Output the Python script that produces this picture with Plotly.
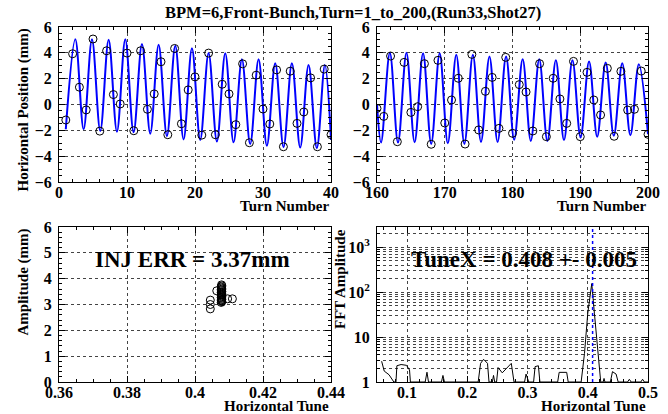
import plotly.graph_objects as go

# ---------------- data ----------------
turns_a = list(range(1, 41))
pos_a = [-1.2, 3.93, 1.34, -0.42, 5.07, -2.06, 4.16, 0.77, 0.04, 3.98,
         -2.03, 4.16, -0.37, 0.82, 3.31, -2.34, 4.34, -1.49, 1.13, 2.14,
         -2.37, 3.98, -2.34, 1.57, 0.82, -1.56, 3.15, -2.96, 2.27, -0.35,
         -1.51, 2.68, -3.27, 2.58, -1.46, -0.58, 2.06, -3.27, 2.74, -2.34]

turns_b = list(range(160, 201))
pos_b = [-0.30, -0.92, 3.75, -2.88, 3.26, -0.61, -0.17, 3.16, -3.08, 3.42,
         -1.43, 0.35, 2.03, -3.06, 3.88, -1.97, 1.02, 2.10, -1.85, 3.65,
         -2.23, 1.54, 0.97, -2.05, 3.16, -2.49, 2.03, 0.43, -1.46, 3.34,
         -2.49, 2.49, 0.35, -0.81, 2.80, -2.46, 2.57, -0.43, -0.37, 2.59,
         -2.31]

# fitted curve, read at its extrema
fit_a_turn = [1.0, 2.4, 3.62, 4.85, 6.07, 7.3, 8.52, 9.75, 10.97, 12.2, 13.42,
              14.65, 15.87, 17.1, 18.32, 19.55, 20.77, 22.0, 23.22, 24.45,
              25.67, 26.9, 28.12, 29.35, 30.57, 31.8, 33.02, 34.25, 35.47,
              36.7, 37.92, 39.1, 40.0]
fit_a_pos = [-1.92, 5.05, -1.92, 5.05, -2.05, 5.02, -2.1, 5.05, -2.15, 4.68,
             -2.26, 4.62, -2.45, 4.55, -2.7, 4.35, -2.75, 3.98, -2.87, 3.96,
             -2.93, 3.5, -3.06, 3.5, -3.19, 3.2, -3.3, 3.19, -3.33, 3.06,
             -3.38, 3.05, -2.75]

fit_b_turn = [160.0, 160.6, 161.9, 163.1, 164.35, 165.55, 166.8, 168.0, 169.25,
              170.45, 171.7, 172.9, 174.15, 175.35, 176.6, 177.8, 179.05,
              180.25, 181.5, 182.7, 183.95, 185.15, 186.4, 187.6, 188.85,
              190.05, 191.3, 192.5, 193.75, 194.95, 196.2, 197.4, 198.65, 200.0]
fit_b_pos = [0.0, -2.95, 4.0, -2.95, 4.0, -2.92, 3.97, -3.05, 3.97, -3.0,
             3.85, -3.05, 3.85, -2.9, 3.72, -2.9, 3.72, -2.72, 3.5, -2.82,
             3.5, -2.82, 3.42, -2.75, 3.42, -2.55, 3.32, -2.5, 3.26, -2.42,
             3.2, -2.38, 3.12, -2.3]

# amplitude vs tune
tune_pts = [0.4064, 0.4096, 0.4110, 0.4045, 0.4045, 0.4045,
            0.4077, 0.4079, 0.4078, 0.4077, 0.4079, 0.4078, 0.4077, 0.4079,
            0.4078, 0.4077, 0.4079, 0.4078, 0.4077, 0.4079, 0.4078, 0.4077,
            0.4079, 0.4078, 0.4077, 0.4079, 0.4078]
amp_pts = [3.53, 3.22, 3.22, 3.17, 3.00, 2.83,
           3.08, 3.11, 3.14, 3.17, 3.20, 3.24, 3.27, 3.30, 3.34, 3.37, 3.40,
           3.44, 3.47, 3.50, 3.54, 3.57, 3.60, 3.64, 3.68, 3.72, 3.76]

# FFT spectrum
fft_tune = [0.0577, 0.0620, 0.0700, 0.0765, 0.0780, 0.0815, 0.0830, 0.0900,
            0.0990, 0.1040, 0.1055, 0.1300, 0.1330, 0.1355, 0.1570, 0.1595,
            0.1620, 0.2180, 0.2220, 0.2270, 0.2335, 0.2360, 0.2415, 0.2435,
            0.2455, 0.2485, 0.2510, 0.2580, 0.2730, 0.2775, 0.2950, 0.2975,
            0.3020, 0.3100, 0.3125, 0.3180, 0.3205, 0.3500, 0.3525, 0.3650,
            0.3675, 0.3890, 0.3945, 0.4000, 0.4066, 0.4110, 0.4165, 0.4215,
            0.4255, 0.4270, 0.4285, 0.4375, 0.4410, 0.4470, 0.4505, 0.4660,
            0.4690, 0.4720, 0.4880, 0.4910, 0.4940, 0.5000]
fft_amp = [2.9, 1.75, 1.45, 1.1, 1.0, 1.0, 2.3, 2.45,
           2.35, 1.85, 1.0, 1.0, 1.65, 1.0, 1.0, 1.4,
           1.0, 1.0, 2.6, 3.2, 2.6, 1.0, 1.0, 1.4,
           1.0, 1.0, 2.1, 1.6, 2.6, 1.0, 1.0, 1.5,
           1.0, 1.0, 2.2, 2.3, 1.0, 1.0, 1.64, 1.64,
           1.0, 1.0, 4.3, 34.0, 155.0, 34.0, 4.3, 1.0,
           1.0, 1.2, 1.0, 1.0, 1.7, 1.5, 1.0, 1.0,
           1.15, 1.0, 1.0, 1.15, 1.0, 1.0]

tune_x = 0.408
title = "BPM=6,Front-Bunch,Turn=1_to_200,(Run33,Shot27)"
inj_text = "INJ ERR = 3.37mm"
tune_text = "TuneX = 0.408 +- 0.005"

# ---------------- figure ----------------
W, H = 668, 414
FONT = "Liberation Serif"


def px_x(p):
    return p / W


def px_y(p):
    return 1 - p / H


dom_xl = [px_x(59), px_x(331)]
dom_xr = [px_x(377), px_x(648)]
dom_yt = [px_y(182), px_y(27)]
dom_yb = [px_y(382), px_y(227)]

fig = go.Figure()

blue = "#0000ff"
circ = dict(symbol="circle-open", size=8, color="black", line=dict(width=1))

fig.add_trace(go.Scatter(x=fit_a_turn, y=fit_a_pos, mode="lines",
                         line=dict(color=blue, width=2, shape="spline", smoothing=1.0),
                         xaxis="x", yaxis="y"))
fig.add_trace(go.Scatter(x=turns_a, y=pos_a, mode="markers", marker=circ,
                         xaxis="x", yaxis="y"))
fig.add_trace(go.Scatter(x=fit_b_turn, y=fit_b_pos, mode="lines",
                         line=dict(color=blue, width=2, shape="spline", smoothing=1.0),
                         xaxis="x2", yaxis="y2"))
fig.add_trace(go.Scatter(x=turns_b, y=pos_b, mode="markers", marker=circ,
                         xaxis="x2", yaxis="y2"))
fig.add_trace(go.Scatter(x=tune_pts, y=amp_pts, mode="markers", marker=circ,
                         xaxis="x3", yaxis="y3"))
fig.add_trace(go.Scatter(x=fft_tune, y=fft_amp, mode="lines",
                         line=dict(color="black", width=1),
                         xaxis="x4", yaxis="y4"))

tickfont = dict(family=FONT, size=16, color="black", weight="bold")


def ax(**kw):
    base = dict(showline=True, linecolor="black", linewidth=1, mirror="allticks",
                ticks="inside", ticklen=6, tickwidth=1, tickcolor="black",
                showgrid=True, gridcolor="#444444", griddash="dot", gridwidth=1,
                zeroline=False, tickfont=tickfont, fixedrange=True, automargin=False,
                tickprefix="<b>", ticksuffix="</b>")
    base.update(kw)
    return base


def minor(d):
    return dict(ticks="inside", ticklen=3, dtick=d, tickcolor="black", showgrid=False)


fig.update_layout(
    template="none",
    width=W, height=H, margin=dict(l=0, r=0, t=0, b=0, pad=0), autosize=False,
    paper_bgcolor="white", plot_bgcolor="white", showlegend=False,
    xaxis=ax(domain=dom_xl, anchor="y", range=[0, 40], dtick=10, tick0=0, minor=minor(2),
             ticklabelstandoff=-4),
    yaxis=ax(domain=dom_yt, anchor="x", range=[-6, 6], dtick=2, tick0=0, minor=minor(0.5),
             ticklabelstandoff=3),
    xaxis2=ax(domain=dom_xr, anchor="y2", range=[160, 200], dtick=10, tick0=0, minor=minor(2),
              ticklabelstandoff=-4),
    yaxis2=ax(domain=dom_yt, anchor="x2", range=[-6, 6], dtick=2, tick0=0, minor=minor(0.5),
              ticklabelstandoff=3),
    xaxis3=ax(domain=dom_xl, anchor="y3", range=[0.36, 0.44], dtick=0.02, tick0=0,
              minor=minor(0.005), ticklabelstandoff=-4),
    yaxis3=ax(domain=dom_yb, anchor="x3", range=[0, 6], dtick=1, tick0=0, minor=minor(0.2),
              ticklabelstandoff=3),
    xaxis4=ax(domain=dom_xr, anchor="y4", range=[0.05, 0.5], dtick=0.1, tick0=0,
              minor=minor(0.02), ticklabelstandoff=-4),
    yaxis4=ax(domain=dom_yb, anchor="x4", type="log", range=[0, 3.45],
              tickvals=[1, 10, 100, 1000],
              ticktext=["1", "10", "10<sup>2</sup>", "10<sup>3</sup>"],
              ticklabelstandoff=3,
              minor=dict(ticks="inside", ticklen=3, dtick="D1", tickcolor="black",
                         showgrid=True, gridcolor="#444444", griddash="dot", gridwidth=1)),
)

fig.add_shape(type="line", xref="x4", yref="y4 domain", x0=tune_x, x1=tune_x,
              y0=0, y1=1, line=dict(color=blue, width=1.5, dash="dot"))

tfont = dict(family=FONT, size=15, color="black", weight="bold")
big = dict(family=FONT, size=23, color="black", weight="bold")

ann = [
    dict(text=title, x=px_x(353), y=px_y(12), xanchor="center", yanchor="middle",
         font=dict(family=FONT, size=16.5, color="black", weight="bold")),
    dict(text="Horizontal Position (mm)", x=px_x(23), y=px_y(27), textangle=-90,
         xanchor="center", yanchor="top", font=tfont),
    dict(text="Amplitude (mm)", x=px_x(23), y=px_y(227), textangle=-90,
         xanchor="center", yanchor="top", font=tfont),
    dict(text="FFT Amplitude", x=px_x(340), y=px_y(227), textangle=-90,
         xanchor="center", yanchor="top", font=tfont),
    dict(text="Turn Number", x=px_x(331), y=px_y(206), xanchor="right", yanchor="middle", font=tfont),
    dict(text="Turn Number", x=px_x(648), y=px_y(206), xanchor="right", yanchor="middle", font=tfont),
    dict(text="Horizontal Tune", x=px_x(331), y=px_y(406), xanchor="right", yanchor="middle", font=tfont),
    dict(text="Horizontal Tune", x=px_x(648), y=px_y(406), xanchor="right", yanchor="middle", font=tfont),
    dict(text=inj_text, x=px_x(192), y=px_y(259), xanchor="center", yanchor="middle", font=big),
    dict(text=tune_text, x=px_x(524), y=px_y(259), xanchor="center", yanchor="middle", font=big),
]
for a in ann:
    a.update(xref="paper", yref="paper", showarrow=False)
    fig.add_annotation(**a)

# remove the page's default body margin so the 668x414 figure fills the window
fig.write_html("out.html", config={"displayModeBar": False},
               post_script="document.body.style.margin='0px';")
